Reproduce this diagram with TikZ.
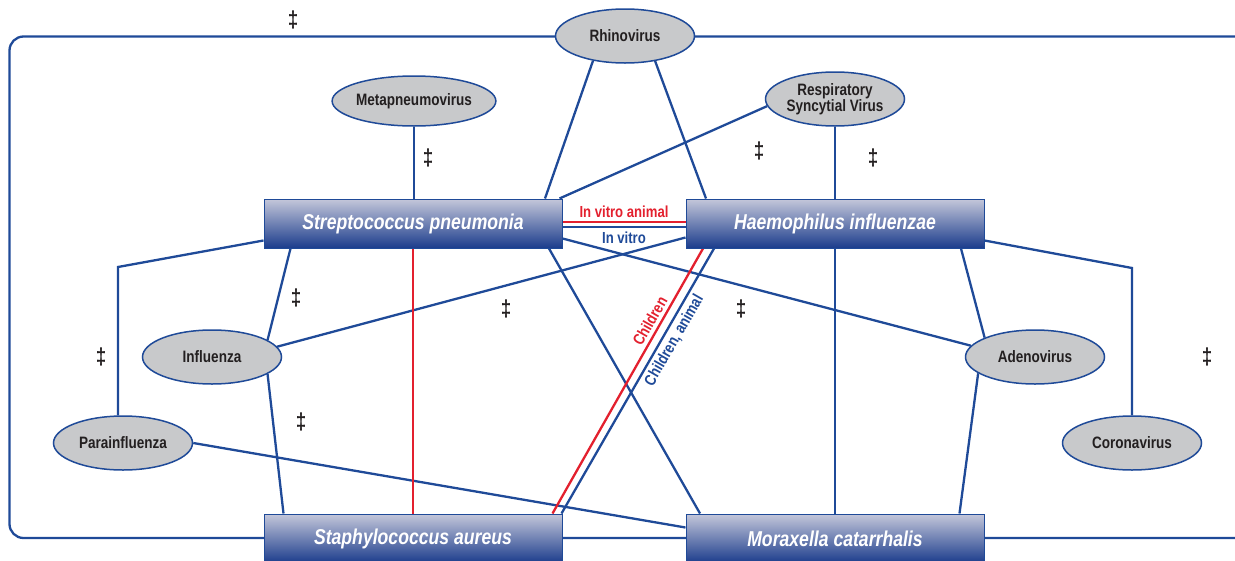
\documentclass[tikz,border=0pt]{standalone}
\usepackage{fontspec}
\newfontfamily\cf{Liberation Sans}[FakeStretch=0.82]
\usetikzlibrary{shapes.geometric,calc}
\pgfdeclarelayer{background}
\pgfsetlayers{background,main}
\definecolor{lineblue}{HTML}{1F4A98}
\definecolor{linered}{HTML}{E3202E}
\definecolor{ellfill}{HTML}{C8C9CB}
\definecolor{boxtop}{HTML}{C4C7DA}
\definecolor{boxbot}{HTML}{1B3C8C}
\definecolor{txtdark}{HTML}{231F20}
\tikzset{
  virus/.style={ellipse, draw=lineblue, line width=1.5pt, fill=ellfill,
    minimum width=139pt, minimum height=54pt, inner sep=0pt, align=center,
    font=\cf\bfseries\fontsize{16.5}{16}\selectfont, text=txtdark},
  bact/.style={rectangle, draw=lineblue, line width=1pt, top color=boxtop,
    bottom color=boxbot, minimum width=298pt, minimum height=49pt, inner sep=0pt,
    font=\cf\bfseries\itshape\fontsize{21.5}{24}\selectfont, text=white},
  conn/.style={draw=lineblue, line width=2.3pt},
  redc/.style={draw=linered, line width=2.3pt},
  elab/.style={font=\cf\bfseries\fontsize{16}{16}\selectfont},
  dd/.style={font=\cf\bfseries\fontsize{23}{23}\selectfont, text=txtdark, inner sep=0pt},
  frame/.style={draw=lineblue, line width=2.3pt, rounded corners=14pt}
}
\begin{document}
\begin{tikzpicture}[x=1pt,y=-1pt]
\useasboundingbox (0,0) rectangle (1235,560);
% bacteria boxes
\node[bact] (strep) at (413,223.5) {Streptococcus pneumonia};
\node[bact] (haem) at (835,223.5) {Haemophilus influenzae};
\node[bact] (staph) at (413,538.5) {Staphylococcus aureus};
\node[bact] (morax) at (835,538.5) {Moraxella catarrhalis};
% viruses
\node[virus] (rhino) at (625,36) {Rhinovirus};
\node[virus] (rsv) at (835,99) {Respiratory\\Syncytial Virus};
\node[virus, minimum height=50pt] (meta) at (414,101) {Metapneumovirus};
\node[virus] (influ) at (212,357) {Influenza};
\node[virus] (parainf) at (123,443) {Parainfluenza};
\node[virus] (adeno) at (1035,357) {Adenovirus};
\node[virus] (corona) at (1132,443) {Coronavirus};
% bend points
\coordinate (pk) at (118,267);
\coordinate (ck) at (1132,268);
% double daggers
\node[dd] (d1) at (293,20) {‡};
\node[dd] (d2) at (428,158) {‡};
\node[dd] (d3) at (759,151) {‡};
\node[dd] (d4) at (873,158) {‡};
\node[dd] (d5) at (296,298) {‡};
\node[dd] (d6) at (506,309) {‡};
\node[dd] (d7) at (741,309) {‡};
\node[dd] (d8) at (101,357) {‡};
\node[dd] (d9) at (301,422) {‡};
\node[dd] (d10) at (1207,357) {‡};
\begin{pgfonlayer}{background}
\draw[frame] (1244,36.5) -- (9.5,36.5) -- (9.5,538) -- (1244,538);
\draw[conn] (meta.south) -- (meta.south |- strep.north);
\draw[conn] ([xshift=-32pt,yshift=3pt]rhino.south) -- ([xshift=132pt]strep.north);
\draw[conn] ([xshift=30pt,yshift=3pt]rhino.south) -- ([xshift=-129pt]haem.north);
\draw[conn] (rsv.186) -- ([xshift=-3pt]strep.north east);
\draw[conn] (rsv.south) -- (haem.north);
\draw[conn] ([yshift=-17pt]strep.west) -- (pk) -- (pk |- parainf.north);
\draw[conn] ([xshift=27pt]strep.south west) -- (influ.17);
\draw[conn] (influ.-17) -- ([xshift=20pt]staph.north west);
\draw[conn] ([yshift=-14pt]haem.west) -- (influ.9);
\draw[conn] ([yshift=-15pt]strep.east) -- (adeno.170);
\draw[conn] ([xshift=136pt]strep.south) -- ([xshift=-135pt]morax.north);
\draw[conn] ([xshift=126pt]haem.south) -- (adeno.159);
\draw[conn] (adeno.196) -- ([xshift=-25pt]morax.north east);
\draw[conn] ([yshift=-17pt]haem.east) -- (ck) -- (corona.north);
\draw[conn] (haem.south) -- (morax.north);
\draw[conn] (parainf.east) -- ([yshift=11pt]morax.west);
\draw[redc] (strep.south) -- (staph.north);
\draw[redc] ([xshift=-10pt]staph.north east) -- node[pos=0.707, sloped, above, elab, text=linered] {Children} ([xshift=-132pt]haem.south);
\draw[conn] ([xshift=-1pt]staph.north east) -- node[pos=0.674, sloped, below, elab, text=lineblue] {Children, animal} ([xshift=-121pt]haem.south);
\draw[redc] ([yshift=1.5pt]strep.east) -- node[above, elab, text=linered] {In vitro animal} ([yshift=1.5pt]haem.west);
\draw[conn] ([yshift=-3.5pt]strep.east) -- node[below, elab, text=lineblue] {In vitro} ([yshift=-3.5pt]haem.west);
\end{pgfonlayer}
\end{tikzpicture}
\end{document}
